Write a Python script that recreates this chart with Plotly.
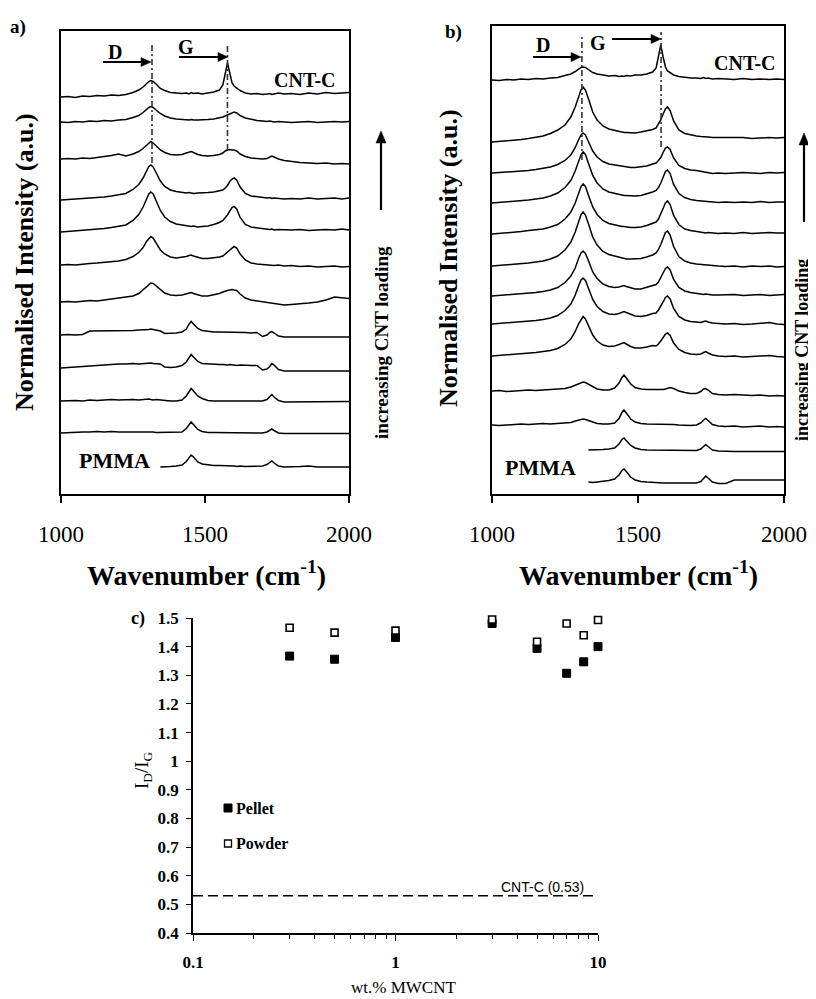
import math
import plotly.graph_objects as go

# page body has an 8px margin: the figure is sized to fill the rest of the window
PAGE_W, PAGE_H, BODY_MARGIN = 816, 999, 8
W, H = PAGE_W - BODY_MARGIN, PAGE_H - BODY_MARGIN
SERIF = "Liberation Serif"

# ---------------- data ----------------
wavenumber = [1000, 1025, 1050, 1075, 1100, 1125, 1150, 1175, 1200, 1225,
              1250, 1270, 1285, 1297, 1305, 1312, 1320, 1330, 1345, 1360, 1380, 1400,
              1420, 1435, 1445, 1452, 1460, 1475, 1490,
              1510, 1530, 1550,
              1562, 1570, 1578, 1586, 1594, 1601, 1610, 1622, 1640, 1660, 1680,
              1700, 1715, 1725, 1732, 1740, 1755, 1775,
              1800, 1830, 1860, 1890, 1920, 1950, 1975, 2000]

N = None
# panel a spectra (top: CNT-C ... bottom: PMMA), intensity above own baseline
spectra_a = [
    [0, 0.5, -0.5, 1, 0.5, 1.5, 1, 2, 1.5, 2.5,
     4.5, 7, 10, 13.5, 15.5, 16.5, 15.5, 13, 8.5, 6.5, 4.5, 4,
     3.5, 4, 3, 4.5, 3.5, 4, 3,
     4, 5, 7,
     12, 23, 34, 24, 14, 11, 9, 6.5, 4, 3, 3.5,
     2.5, 3, 3.5, 2.5, 3, 4, 3,
     3.5, 2.5, 4, 3, 4.5, 3.5, 4, 4.5],
    [0, -0.5, 0.5, 0, 1, 0.5, 1.5, 1, 2, 2.5,
     4.5, 6.5, 9.5, 13, 14.5, 15.5, 14.5, 12, 8.5, 6, 4, 3,
     2.5, 2.5, 2, 2.5, 2, 2, 2,
     2.5, 3, 4,
     5, 6, 7, 8.5, 9.5, 10, 9, 6.5, 4, 2.5, 1.5,
     1, 0.5, 1, 0.5, 0, 0.5, 0,
     -0.5, 0, 0.5, -0.5, 0, 0.5, 0, 0.5],
    [0, 0.5, 0, 1, 0.5, 1.5, 2, 3.5, 5, 3,
     5, 7.5, 10.5, 14, 16, 17.5, 16, 13, 9, 6.5, 4.5, 4,
     4.5, 6, 7, 7.5, 6.5, 4.5, 3.5,
     3, 3.5, 4.5,
     6, 8, 9, 9.5, 9, 9, 8, 5, 2.5, 1, 0.5,
     0, 0.5, 2, 3, 2, 0, -1.5,
     -2.5, -3.5, -4, -4.5, -4, -5, -4.5, -5],
    [0, 0.5, 1, 1, 2, 2.5, 3, 4, 5, 6.5,
     10.5, 15.5, 22, 29.5, 33.5, 35, 33, 27.5, 19, 13.5, 10, 8.5,
     7.5, 7, 7.5, 7, 6.5, 7, 7.5,
     7.5, 8, 9,
     10, 12, 14.5, 18.5, 21, 22, 20, 13, 6.5, 4, 3,
     2.5, 2, 2.5, 1.5, 2, 1.5, 1,
     1.5, 1, 2, 1, 1.5, 2, 1, 2],
    [0, 0.5, 1, 1.5, 2, 2.5, 3.5, 4.5, 5.5, 7,
     11.5, 17.5, 25, 33.5, 38, 40, 38, 31.5, 21.5, 15, 10.5, 8,
     7, 6.5, 6, 5.5, 6, 5, 5.5,
     6, 7.5, 9.5,
     11.5, 14, 17, 21, 24.5, 25.5, 23, 14.5, 7.5, 5, 4,
     3.5, 3, 2.5, 3, 2, 2.5, 2,
     2, 2.5, 1.5, 2, 2.5, 2, 3, 2],
    [0, 0.5, 0, 1, 1.5, 2, 2.5, 3, 4, 5.5,
     8.5, 12.5, 17.5, 23.5, 26.5, 28.5, 27, 22, 15, 11, 8, 7,
     7.5, 8.5, 9.5, 10, 9, 7.5, 6.5,
     6.5, 7, 8,
     9, 11, 13, 15.5, 17.5, 18.5, 17, 11, 5, 2, 1,
     0.5, 0, 0.5, 0, -0.5, 0, -1,
     -0.5, -1.5, -1, -2, -1.5, -1, -2, -1.5],
    [0, 0.5, 0, 1, 1.5, 1, 2, 2.5, 3.5, 4.5,
     6, 8.5, 12, 15.5, 17.5, 19, 18.5, 16, 12, 9, 7, 6.5,
     7, 8, 9, 9.5, 8.5, 7, 6,
     6, 7, 8.5,
     10, 11, 11.5, 12, 12.5, 12, 11.5, 8, 4, 2, 1,
     0, -0.5, -1, -1.5, -2, -2.5, -3,
     -2.5, -2, -1, 0, 2, 5, 4.5, 3.5],
    [0, 0.5, 0, 0.5, 4, 4, 4.5, 4, 4.5, 4,
     4.5, 5, 5, 5.5, 5.5, 6, 5.5, 5, 4, 1.5, 1.5, 2,
     3, 6, 11, 13.5, 11, 6.5, 4.5,
     3.5, 3, 3,
     3, 3, 2.5, 3, 3, 2.5, 3, 2.5, 2.5, 2, 2.5,
     -1.5, 0, 2.5, 3.5, 2, -1, -2,
     -2, -2, -1.5, -2, -2, -2, -2, -2],
    [0, 0.5, 1, 1.5, 2, 3, 3.5, 3.5, 4, 4,
     4.5, 4, 4.5, 4.5, 5, 5, 4.5, 4.5, 4, 1, 0.5, 1,
     2.5, 6, 11, 13.5, 11, 6.5, 4.5,
     4, 3.5, 3.5,
     3.5, 3, 3, 3.5, 3, 3, 2.5, 3, 2.5, 2.5, 2.5,
     -2, -1, 1.5, 4.5, 3, -1.5, -3,
     -3, -3, -3, -3, -3, -3, -2.5, -3],
    [0, 0.5, 0.5, 0, 1, 0.5, 1, 1.5, 1, 1.5,
     1.5, 1, 1.5, 1.5, 2, 1.5, 1, 1.5, 1, 0.5, 0, 0,
     1, 5, 10, 12.5, 10, 5, 2.5,
     0.5, 0, 0,
     0, -0.5, 0, 0, -0.5, 0, 0, -0.5, -0.5, -0.5, -0.5,
     0, 1.5, 5, 6.5, 4, 0.5, -1,
     -1, -1, -1, -0.5, -1, -1, -1, -0.5],
    [0, 0.5, 0.5, 1, 1, 1.5, 1, 1.5, 1, 1,
     1, 1.5, 1, 1.5, 1, 1, 1, 0.5, 0.5, 0.5, 0.5, 0.5,
     1, 4.5, 9, 11, 8.5, 3.5, 1.5,
     0.5, 0.5, 0.5,
     0.5, 0.5, 0.5, 0.5, 0.5, 0.5, 0.5, 0.5, 0.5, 0.5, 0,
     0, 1, 3, 4, 2.5, 0, -0.5,
     -0.5, -0.5, -0.5, -0.5, -0.5, -0.5, -0.5, -0.5],
    [N, N, N, N, N, N, N, N, N, N,
     N, N, N, N, N, N, N, N, 0, 0.5, 0.5, 1,
     2, 5.5, 10, 12, 10, 5, 3,
     2, 1.5, 1.5,
     1.5, 1, 1.5, 1, 1, 1, 0.5, 1, 0.5, 0.5, 0.5,
     1, 2.5, 5, 6, 4, 1, 0,
     0, 0.5, 1, 0, 0, 0, 0, 0],
]
offsets_a = [397, 372, 335, 294, 262, 229, 192, 159, 126, 93, 61, 27]

spectra_b = [
    [0, -0.5, 0.5, 0, 1, 0.5, 1.5, 1, 2, 2.5,
     4.5, 6, 8.5, 11, 12.5, 13, 12.5, 10.5, 7.5, 6, 5, 4,
     4.5, 3.5, 4, 3.5, 4.5, 4, 5,
     5, 6, 8,
     12, 22, 35, 23, 13, 9, 7, 5, 3.5, 2.5, 2,
     2, 1.5, 2.5, 1.5, 2, 1, 1.5,
     1, 0.5, 1.5, 0.5, 1, 0.5, 1, 0.5],
    [0, 0.5, 1, 2, 2.5, 3.5, 4.5, 6, 8.5, 12,
     17, 25, 35, 46.5, 52.5, 55, 52, 43.5, 30, 22, 16, 13,
     11.5, 10.5, 10, 9.5, 9.5, 9, 9,
     10, 11, 12.5,
     14, 17.5, 22, 28, 33, 35, 31.5, 21, 12, 8.5, 7,
     6, 5.5, 5.5, 5, 5, 4.5, 4.5,
     4.5, 4, 4.5, 3.5, 4, 4.5, 4, 4.5],
    [0, 0.5, 0.5, 1.5, 2, 2.5, 3.5, 4.5, 6, 8.5,
     12.5, 18, 25.5, 33.5, 38, 40, 38, 31.5, 22, 16, 11.5, 9,
     8, 7, 6.5, 6, 6, 5.5, 5.5,
     6, 7, 9,
     10, 12.5, 15.5, 20.5, 25, 26, 23.5, 15, 7.5, 4.5, 3,
     2.5, 1.5, 1, 0.5, 0, -0.5, 0,
     -0.5, 0, 0.5, 0, -0.5, 0.5, 0, 0.5],
    [0, 0.5, 1, 1.5, 2.5, 3, 4, 5, 7, 10,
     15.5, 22.5, 32, 43, 48.5, 51, 48.5, 40, 27.5, 20, 14, 11,
     9.5, 8.5, 8, 7.5, 7.5, 7, 7,
     7.5, 9, 11,
     12.5, 15.5, 20, 26, 31.5, 33, 29.5, 18.5, 9.5, 5.5, 3.5,
     2.5, 2, 1.5, 1.5, 1, 1, 0.5,
     1, 0.5, 1, 0.5, 1.5, 0.5, 1, 1],
    [0, 0.5, 1, 2, 2.5, 3.5, 4, 5, 7, 9.5,
     15, 22, 31, 42, 47.5, 50, 47.5, 39, 27, 19.5, 13.5, 10.5,
     9, 8, 7.5, 7.5, 7, 6.5, 6.5,
     7, 8.5, 10.5,
     12, 15, 19.5, 25.5, 31, 33, 29.5, 18.5, 9.5, 5, 3.5,
     2.5, 2, 1.5, 1, 1.5, 1, 0.5,
     1, 0.5, 1.5, 0.5, 1, 1.5, 1, 1],
    [0, 0.5, 1, 1.5, 2.5, 3, 4, 5, 7, 10,
     16, 24, 34, 45.5, 51.5, 54, 51, 42.5, 29, 21, 14.5, 11.5,
     10, 9, 8, 7.5, 7, 7, 7,
     7.5, 9, 11,
     13, 16.5, 21.5, 27.5, 33.5, 35, 31, 19.5, 9.5, 5, 3,
     2, 1.5, 1, 1, 0.5, 0, 0,
     -0.5, 0, -1, 0, -0.5, 0, -1, -0.5],
    [0, 0.5, 1, 1.5, 2, 3, 3.5, 4.5, 6, 8.5,
     13.5, 20, 28, 38, 43, 45, 42.5, 35.5, 24, 17.5, 12, 9.5,
     8.5, 9, 10, 10.5, 9.5, 8, 7,
     7, 8.5, 10.5,
     11.5, 14, 18, 23, 27.5, 29, 26, 16.5, 8.5, 5, 3.5,
     2.5, 2, 1.5, 2, 1.5, 1, 1,
     1, 1.5, 0.5, 1, 1.5, 0.5, 1, 1.5],
    [0, 0.5, 1, 1.5, 2, 3, 3.5, 4.5, 6, 8.5,
     13.5, 20, 29, 38.5, 44, 46, 43.5, 36, 24.5, 17.5, 12.5, 10,
     9.5, 10.5, 12, 12.5, 11.5, 9.5, 8,
     7.5, 8.5, 10.5,
     11, 14, 17.5, 22, 26.5, 28, 25, 15.5, 7.5, 4, 2.5,
     1.5, 1.5, 2.5, 3, 2, 1, 0.5,
     0, 0.5, -0.5, 0, 0.5, 1.5, 0, -0.5],
    [0, 0.5, 1, 1.5, 2, 2.5, 3.5, 4.5, 5.5, 7.5,
     11.5, 17, 24.5, 32.5, 37, 39.5, 37, 30.5, 21, 15, 11, 9.5,
     10, 11.5, 13, 13.5, 12, 9.5, 8,
     8, 9, 10.5,
     10, 12, 15, 18.5, 22, 23, 20.5, 13, 6.5, 3.5, 2,
     1.5, 2, 3.5, 4.5, 3, 1, 0,
     -0.5, 0, -1, -0.5, 0, 0.5, -0.5, -1],
    [0, 0.5, -0.5, 0, 0.5, 1, 0.5, 1, 1.5, 1.5,
     2.5, 4, 6, 7.5, 8.5, 9, 8.5, 7, 4.5, 2, 1, 1,
     3, 8, 13.5, 16, 13, 7, 3.5,
     2, 1.5, 1.5,
     1.5, 1, 1.5, 1.5, 2, 2.5, 3.5, 2.5, 0, -1.5, -2.5,
     -2.5, -0.5, 2, 2.5, 1, -2.5, -3.5,
     -4, -3.5, -4, -4.5, -4, -5, -4.5, -5],
    [0, -0.5, 0, 0.5, 1, 0.5, 1, 1.5, 1, 1.5,
     1.5, 2.5, 4, 5, 5.5, 6, 5.5, 4.5, 3, 1.5, 1, 1,
     2, 6.5, 12.5, 15, 12, 6, 3,
     1.5, 1, 1,
     1, 1, 0.5, 1, 1, 0.5, 1, 0.5, 0, -0.5, -0.5,
     0, 2, 5, 6.5, 4.5, 0.5, -1,
     -1.5, -1, -2, -1.5, -1, -2, -1.5, -2],
    [N, N, N, N, N, N, N, N, N, N,
     N, N, N, N, N, N, N, 0, 0, 0.5, 0.5, 1,
     2, 6, 10.5, 12, 9.5, 4.5, 2,
     0.5, 0, 0,
     0, 0, -0.5, -0.5, -0.5, -0.5, -0.5, -0.5, -0.5, -0.5, -0.5,
     -0.5, 1, 4, 5.5, 3.5, 0, -1,
     -1.5, -1.5, -1.5, -1.5, -1.5, -1.5, -1.5, -1.5],
    [N, N, N, N, N, N, N, N, N, N,
     N, N, N, N, N, N, N, 0, -0.5, 0, 0.5, 1.5,
     3, 7, 11.5, 13, 10.5, 5, 2,
     0.5, 0, -0.5,
     -1, -0.5, -1, -1, -1, -1, -1, -1, -1, -1, -1,
     -1, 0.5, 4, 6, 4, 0, -1.5,
     -1.5, 2, 2, 2, 2, 2, 2, 2],
]
offsets_b = [414, 352, 321, 291, 260, 228, 198, 170, 138, 103, 69, 44, 12]

d_band_a, g_band_a = 1316, 1578
d_band_b, g_band_b = 1308, 1579

wt_pct = [0.3, 0.5, 1, 3, 5, 7, 8.5, 10]
pellet = [1.367, 1.356, 1.432, 1.481, 1.394, 1.307, 1.347, 1.400]
powder = [1.466, 1.449, 1.456, 1.495, 1.417, 1.481, 1.440, 1.493]
cnt_c_ratio = 0.53

x_ticks_c = [0.1, 1, 10]
x_ticklabels_c = ["0.1", "1", "10"]
x_minor_ticks_c = [0.2, 0.3, 0.4, 0.5, 0.6, 0.7, 0.8, 0.9, 2, 3, 4, 5, 6, 7, 8, 9]
y_ticks_c = [0.4, 0.5, 0.6, 0.7, 0.8, 0.9, 1.0, 1.1, 1.2, 1.3, 1.4, 1.5]
y_ticklabels_c = ["0.4", "0.5", "0.6", "0.7", "0.8", "0.9", "1", "1.1", "1.2", "1.3", "1.4", "1.5"]


# ---------------- helpers (layout geometry, page pixels -> paper) ----------------
def px(x):
    return (x - BODY_MARGIN) / W


def py(y):
    return 1 - (y - BODY_MARGIN) / H


fig = go.Figure()

for spec, off in zip(spectra_a, offsets_a):
    fig.add_trace(go.Scatter(x=wavenumber, y=[None if v is None else v + off for v in spec],
                             mode="lines", line=dict(color="black", width=1.5),
                             xaxis="x", yaxis="y", showlegend=False, connectgaps=False))
for spec, off in zip(spectra_b, offsets_b):
    fig.add_trace(go.Scatter(x=wavenumber, y=[None if v is None else v + off for v in spec],
                             mode="lines", line=dict(color="black", width=1.5),
                             xaxis="x2", yaxis="y2", showlegend=False, connectgaps=False))

fig.add_trace(go.Scatter(x=wt_pct, y=pellet, mode="markers", name="Pellet",
                         marker=dict(symbol="square", size=8, color="black",
                                     line=dict(color="black", width=1)),
                         xaxis="x3", yaxis="y3", showlegend=False, cliponaxis=False))
fig.add_trace(go.Scatter(x=wt_pct, y=powder, mode="markers", name="Powder",
                         marker=dict(symbol="square", size=7, color="white",
                                     line=dict(color="black", width=1.6)),
                         xaxis="x3", yaxis="y3", showlegend=False, cliponaxis=False))

spec_x = dict(range=[1000, 2000], showline=True, linecolor="black", linewidth=1.5,
              mirror=True, ticks="outside", ticklen=7, tickwidth=1.5, tickcolor="black",
              tickvals=[1000, 1500, 2000], ticktext=["1000", "1500", "2000"],
              tickfont=dict(family=SERIF, size=23, color="black"),
              ticklabelstandoff=12, showgrid=False, zeroline=False, automargin=False)
spec_y = dict(showline=True, linecolor="black", linewidth=1.5, mirror=True,
              showticklabels=False, ticks="", showgrid=False, zeroline=False,
              automargin=False)

fig.update_layout(
    template="none",
    width=W, height=H, margin=dict(l=0, r=0, t=0, b=0, autoexpand=False),
    paper_bgcolor="white", plot_bgcolor="white",
    xaxis=dict(domain=[px(61), px(349)], anchor="y", **spec_x),
    yaxis=dict(domain=[py(494), py(31)], anchor="x", range=[0, 463], **spec_y),
    xaxis2=dict(domain=[px(492), px(784)], anchor="y2", **spec_x),
    yaxis2=dict(domain=[py(494), py(26)], anchor="x2", range=[0, 468], **spec_y),
    xaxis3=dict(domain=[px(193), px(598)], anchor="y3", type="log", range=[-1, 1],
                showline=True, linecolor="black", linewidth=1.5, ticks="outside",
                ticklen=6, tickwidth=1.3, tickcolor="black",
                tickvals=x_ticks_c, ticktext=x_ticklabels_c,
                minor=dict(tickvals=x_minor_ticks_c, ticks="outside", ticklen=4,
                           tickwidth=1.2, tickcolor="black", showgrid=False),
                tickfont=dict(family=SERIF, size=17, color="black", weight="bold"),
                ticklabelstandoff=7, showgrid=False, zeroline=False, automargin=False),
    yaxis3=dict(domain=[py(933), py(618)], anchor="x3", range=[0.4, 1.5],
                showline=True, linecolor="black", linewidth=1.5, ticks="outside",
                ticklen=5, tickwidth=1.2, tickcolor="black",
                tickvals=y_ticks_c, ticktext=y_ticklabels_c,
                tickfont=dict(family=SERIF, size=17, color="black", weight="bold"),
                ticklabelstandoff=4, showgrid=False, zeroline=False, automargin=False),
    showlegend=False,
)

# dashed vertical band markers
shapes = []
for xd, y0, y1, xr, yr in [(d_band_a, 331, 451, "x", "y"), (g_band_a, 344, 449, "x", "y"),
                           (d_band_b, 334, 459, "x2", "y2"), (g_band_b, 347, 462, "x2", "y2")]:
    shapes.append(dict(type="line", xref=xr, yref=yr, x0=xd, x1=xd, y0=y0, y1=y1,
                       line=dict(color="#333333", width=1.6, dash="6px,3px,2px,3px")))
# CNT-C reference line in panel c
shapes.append(dict(type="line", xref="x3", yref="y3", x0=0.1, x1=10, y0=cnt_c_ratio, y1=cnt_c_ratio,
                   line=dict(color="black", width=1.5, dash="10px,5px")))
# legend squares for panel c
shapes.append(dict(type="rect", xref="paper", yref="paper", x0=px(224), x1=px(232),
                   y0=py(812), y1=py(804), fillcolor="black", line=dict(color="black", width=1)))
shapes.append(dict(type="rect", xref="paper", yref="paper", x0=px(224.5), x1=px(231.5),
                   y0=py(847), y1=py(840), fillcolor="white", line=dict(color="black", width=1.3)))


def arrow(hx, hy, tx, ty, width=2.0, head_len=10.0, head_half=4.5):
    """Arrow drawn as a line plus filled triangular head (page pixel coords)."""
    L = math.hypot(hx - tx, hy - ty)
    ux, uy = (hx - tx) / L, (hy - ty) / L
    bx, by = hx - ux * head_len, hy - uy * head_len
    shapes.append(dict(type="line", xref="paper", yref="paper",
                       x0=px(tx), y0=py(ty), x1=px(bx + ux), y1=py(by + uy),
                       line=dict(color="black", width=width)))
    nx, ny = -uy, ux
    pts = [(hx, hy), (bx + nx * head_half, by + ny * head_half),
           (bx - nx * head_half, by - ny * head_half)]
    path = "M {} {} L {} {} L {} {} Z".format(*[v for p in pts for v in (px(p[0]), py(p[1]))])
    shapes.append(dict(type="path", xref="paper", yref="paper", path=path,
                       fillcolor="black", line=dict(color="black", width=0.5)))


ann = []


def text(x, y, s, size, bold=True, angle=0, family=SERIF, xanchor="center"):
    ann.append(dict(x=px(x), y=py(y), xref="paper", yref="paper", text=s, showarrow=False,
                    textangle=angle, xanchor=xanchor, yanchor="middle",
                    font=dict(family=family, size=size, color="black",
                              weight="bold" if bold else "normal")))


# panel a
text(18, 27, "a)", 19)
text(25, 262, "Normalised Intensity (a.u.)", 26, angle=-90)
text(206, 573, "Wavenumber (cm<sup>-1</sup>)", 28)
text(115, 52, "D", 20)
arrow(151, 62, 103, 62)
text(186, 47, "G", 20)
arrow(228, 57, 179, 57)
text(305, 80, "CNT-C", 20)
text(114, 460, "PMMA", 22)
text(381, 343, "increasing CNT loading", 19, angle=-90)
arrow(381, 131, 381, 210, width=2.2, head_len=12, head_half=5)

# panel b
text(453, 32, "b)", 19)
text(449, 258, "Normalised Intensity (a.u.)", 26, angle=-90)
text(638, 573, "Wavenumber (cm<sup>-1</sup>)", 28)
text(543, 45, "D", 20)
arrow(581, 57, 533, 57)
text(598, 43, "G", 20)
arrow(661, 39, 612, 39)
text(745, 63, "CNT-C", 20)
text(540, 467, "PMMA", 22)
text(802, 350, "increasing CNT loading", 18, angle=-90)
arrow(804, 133, 804, 222, width=2.2, head_len=12, head_half=5)

# panel c
text(138, 618, "c)", 18)
text(143, 770, "I<sub>D</sub>/I<sub>G</sub>", 19, bold=False, angle=-90)
text(403, 987, "wt.% MWCNT", 17, bold=False)
text(234, 808, "Pellet", 16, xanchor="left")
text(234, 843, "Powder", 16, xanchor="left")
text(542, 887, "CNT-C (0.53)", 14, bold=False, family="Liberation Sans")

fig.update_layout(shapes=shapes, annotations=ann)

fig.write_html("out.html")
